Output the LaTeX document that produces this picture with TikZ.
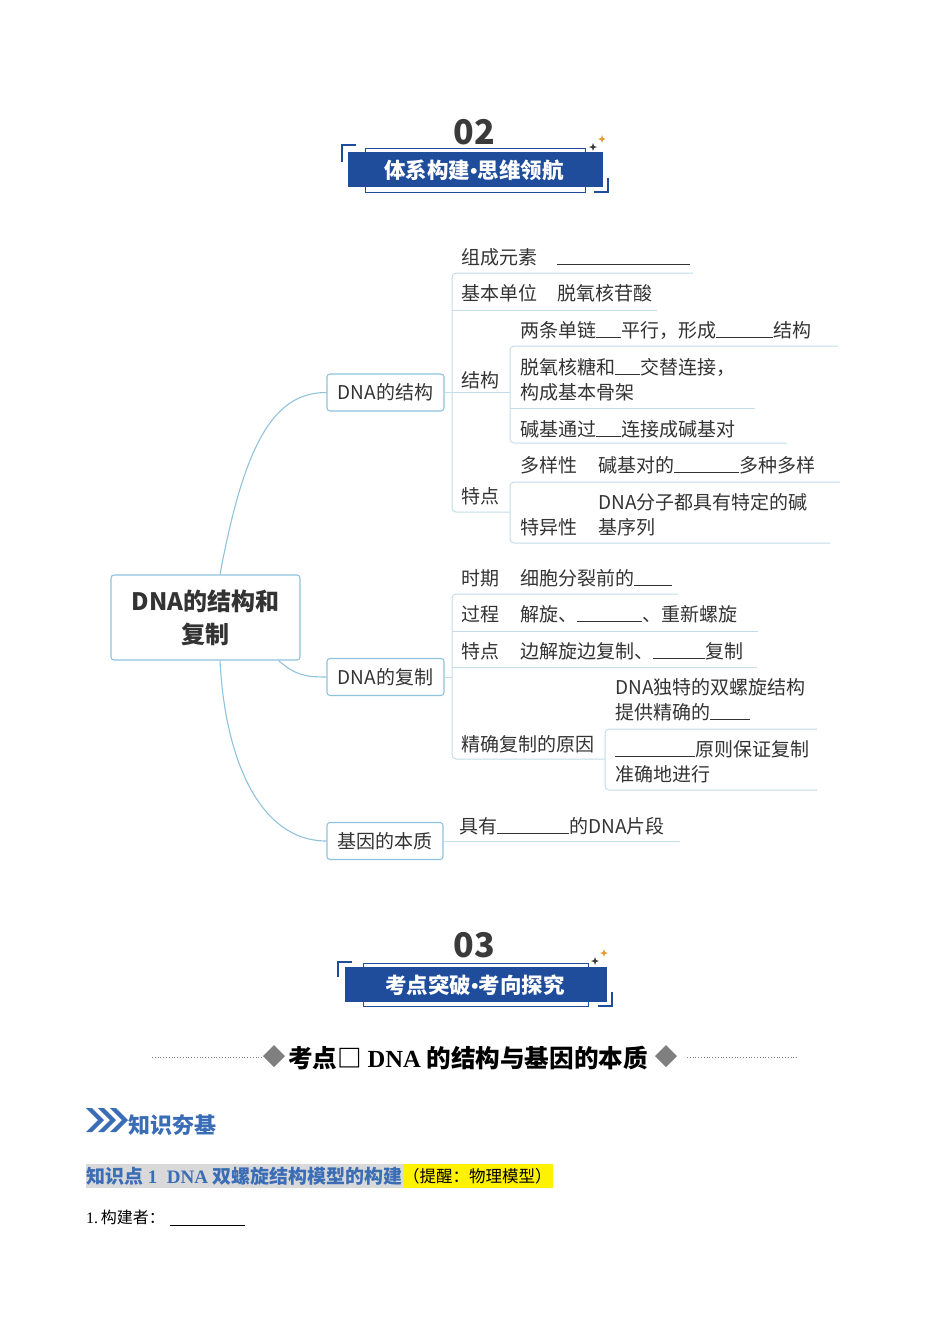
\documentclass[tikz,border=0pt]{standalone}
\usepackage{fontspec}
\setmainfont{Liberation Serif}
\newfontfamily\cjk{Noto Sans CJK SC}
\definecolor{boxline}{HTML}{8FC3DB}
\definecolor{branchline}{HTML}{C2DCE9}
\definecolor{maptext}{HTML}{333333}
\definecolor{banner}{HTML}{1F4D9B}
\definecolor{numgray}{HTML}{3A3A3A}
\definecolor{titleblue}{HTML}{3A6DB5}
\definecolor{starorange}{HTML}{E39A2E}
\definecolor{diamondgray}{HTML}{7F7F7F}
\definecolor{tagback}{HTML}{D9D9D9}
\newcommand\blank[1]{\rule[-1pt]{#1pt}{0.9pt}}

\begin{document}
\begin{tikzpicture}[x=1pt,y=-1pt,
	topic/.style={draw=boxline,line width=1.1pt,rounded corners=3pt,fill=white,text=maptext,
		font=\cjk\fontsize{19}{25}\selectfont,minimum width=117pt,minimum height=37pt,inner sep=0pt},
	leaf/.style={anchor=base west,inner sep=0pt,text=maptext,align=left,
		font=\cjk\fontsize{19}{25}\selectfont},
	branch/.style={draw=branchline,line width=1pt,rounded corners=4pt},
	curve/.style={draw=boxline,line width=1.1pt},
	frameline/.style={draw=banner,line width=0.8pt},
	bracket/.style={draw=banner,line width=1.6pt},
	bannertext/.style={text=white,font=\cjk\bfseries\fontsize{21.5}{24}\selectfont},
	number/.style={text=numgray,font=\cjk\bfseries\fontsize{34}{34}\selectfont}]
	\useasboundingbox (0,0) rectangle (950,1344);

	% header 02
	\node[number] (num2) at (474,132) {02};
	\draw[frameline] (365,148) rectangle (585,192);
	\fill[banner] (348,152) rectangle (603,187);
	\draw[bracket] (356,145) -- (342,145) -- (342,162);
	\draw[bracket] (608,178) -- (608,192) -- (594,192);
	\node[bannertext] (head2) at (474,170) {体系构建{\rmfamily\bfseries •}思维领航};
	\foreach \x/\y/\r/\c in {593/147/4/numgray,602/139/4/starorange}
		\fill[\c] (\x,\y-\r) -- (\x+1,\y-1) -- (\x+\r,\y) -- (\x+1,\y+1) -- (\x,\y+\r)
			-- (\x-1,\y+1) -- (\x-\r,\y) -- (\x-1,\y-1) -- cycle;

	% mind map
	\node[topic,minimum width=189pt,minimum height=85pt,align=center,
		font=\cjk\bfseries\fontsize{24}{33}\selectfont] (root) at (205.5,617.5) {DNA的结构和\\复制};
	\node[topic] (struct) at (385.5,392.5) {DNA的结构};
	\node[topic] (copy) at (385.5,677) {DNA的复制};
	\node[topic,minimum width=116pt] (gene) at (385,841) {基因的本质};

	\draw[curve] ([xshift=14.5pt]root.north) .. controls (245,440) and (275,392.5) .. (struct.west);
	\draw[curve] ([xshift=-22pt]root.south east) .. controls (295,675) and (305,677) .. (copy.west);
	\draw[curve] ([xshift=14.5pt]root.south) .. controls (225,760) and (260,841) .. (gene.west);

	% DNA的结构
	\draw[branch] (693,273) -- (452,273) -- (452,512) -- (510,512);
	\draw[branch] (452,310) -- (657,310);
	\draw[branch] (struct.east) -- (510,392.5);
	\draw[branch] (838,346) -- (510,346) -- (510,443) -- (787,443);
	\draw[branch] (510,408) -- (755,408);
	\draw[branch] (840,482) -- (510,482) -- (510,543) -- (830,543);

	\node[leaf] (elem) at (461,264) {组成元素};
	\node[leaf] (elemv) at (557,264) {\blank{133}};
	\node[leaf] (unit) at (461,300) {基本单位};
	\node[leaf] (unitv) at (557,300) {脱氧核苷酸};
	\node[leaf] (form) at (461,387) {结构};
	\node[leaf] (form1) at (520,337) {两条单链\blank{25}平行，形成\blank{57}结构};
	\node[leaf] (form2) at (520,399) {脱氧核糖和\blank{25}交替连接，\\构成基本骨架};
	\node[leaf] (form3) at (520,436) {碱基通过\blank{25}连接成碱基对};
	\node[leaf] (feat) at (461,503) {特点};
	\node[leaf] (vary) at (520,472) {多样性};
	\node[leaf] (varyv) at (598,472) {碱基对的\blank{65}多种多样};
	\node[leaf] (spec) at (520,534) {特异性};
	\node[leaf] (specv) at (598,534) {DNA分子都具有特定的碱\\基序列};

	% DNA的复制
	\draw[branch] (678,594) -- (452,594) -- (452,759) -- (605,759);
	\draw[branch] (452,631) -- (758,631);
	\draw[branch] (452,667) -- (757,667);
	\draw[branch] (copy.east) -- (452,677);
	\draw[branch] (817,729) -- (605,729) -- (605,790) -- (817,790);

	\node[leaf] (time) at (461,585) {时期};
	\node[leaf] (timev) at (520,585) {细胞分裂前的\blank{38}};
	\node[leaf] (proc) at (461,621) {过程};
	\node[leaf] (procv) at (520,621) {解旋、\blank{65}、重新螺旋};
	\node[leaf] (trait) at (461,658) {特点};
	\node[leaf] (traitv) at (520,658) {边解旋边复制、\blank{52}复制};
	\node[leaf] (exact) at (461,751) {精确复制的原因};
	\node[leaf] (exact1) at (615,719) {DNA独特的双螺旋结构\\提供精确的\blank{40}};
	\node[leaf] (exact2) at (615,781) {\blank{80}原则保证复制\\准确地进行};

	% 基因的本质
	\draw[branch] (gene.east) -- (680,841);
	\node[leaf] (genev) at (459,833) {具有\blank{72}的DNA片段};

	% header 03
	\node[number] (num3) at (474,945) {03};
	\draw[frameline] (363,963) rectangle (588,1006);
	\fill[banner] (345,967) rectangle (607,1002);
	\draw[bracket] (352,962) -- (338,962) -- (338,977);
	\draw[bracket] (612,992) -- (612,1006) -- (598,1006);
	\node[bannertext] (head3) at (475,985) {考点突破{\rmfamily\bfseries •}考向探究};
	\foreach \x/\y/\r/\c in {595/961/4/numgray,604/953/4/starorange}
		\fill[\c] (\x,\y-\r) -- (\x+1,\y-1) -- (\x+\r,\y) -- (\x+1,\y+1) -- (\x,\y+\r)
			-- (\x-1,\y+1) -- (\x-\r,\y) -- (\x-1,\y-1) -- cycle;

	% 考点 title
	\draw[diamondgray,dotted,line width=0.8pt] (152,1057) -- (262,1057);
	\draw[diamondgray,dotted,line width=0.8pt] (687,1057) -- (797,1057);
	\fill[diamondgray] (274,1045) -- (285,1056) -- (274,1067) -- (263,1056) -- cycle;
	\fill[diamondgray] (666,1045) -- (677,1056) -- (666,1067) -- (655,1056) -- cycle;
	\node[anchor=base west,inner sep=0pt,font=\cjk\bfseries\fontsize{24.6}{25}\selectfont] (point) at (288,1067)
		{考点□\ {\rmfamily\bfseries DNA} 的结构与基因的本质};

	% 知识夯基
	\foreach \x in {86,98,110}
		\fill[titleblue] (\x,1108) -- (\x+6,1108) -- (\x+18,1120) -- (\x+6,1132) -- (\x,1132) -- (\x+12,1120) -- cycle;
	\node[anchor=base west,inner sep=0pt,text=titleblue,font=\cjk\bfseries\fontsize{22}{22}\selectfont] (base) at (128,1133) {知识夯基};

	\fill[tagback] (86,1164) rectangle (403,1188);
	\fill[yellow] (403,1164) rectangle (553,1188);
	\node[anchor=base west,inner sep=0pt,text=titleblue,font=\cjk\bfseries\fontsize{19}{19}\selectfont] (know) at (86,1183)
		{知识点{\rmfamily\bfseries\ 1\ \ DNA} 双螺旋结构模型的构建};
	\node[anchor=base west,inner sep=0pt,font=\cjk\fontsize{16.5}{17}\selectfont] (hint) at (403,1182) {（提醒：物理模型）};

	\node[anchor=base west,inner sep=0pt,font=\fontsize{16}{16}\selectfont] (maker) at (86,1223) {1.\,{\cjk 构建者：}};
	\draw[line width=0.7pt] (170,1225) -- (245,1225);
\end{tikzpicture}
\end{document}
